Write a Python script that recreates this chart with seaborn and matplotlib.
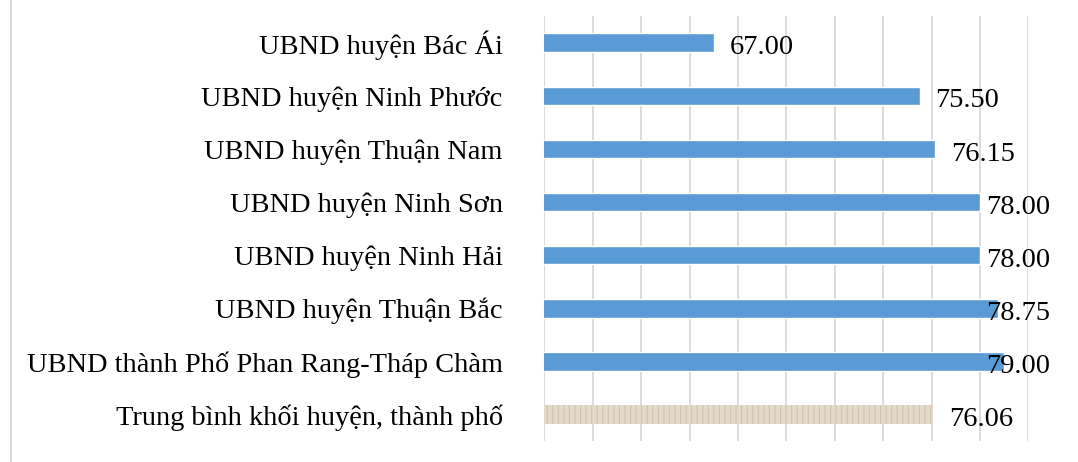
import pandas as pd
import matplotlib.pyplot as plt
import seaborn as sns
from matplotlib.lines import Line2D

sns.set_theme(style="white")
plt.rcParams['font.family'] = ['Liberation Serif', 'DejaVu Serif']
plt.rcParams['hatch.linewidth'] = 0.8

# data
units = [
    "UBND huyện Bác Ái",
    "UBND huyện Ninh Phước",
    "UBND huyện Thuận Nam",
    "UBND huyện Ninh Sơn",
    "UBND huyện Ninh Hải",
    "UBND huyện Thuận Bắc",
    "UBND thành Phố Phan Rang-Tháp Chàm",
    "Trung bình khối huyện, thành phố",
]
scores = [67.00, 75.50, 76.15, 78.00, 78.00, 78.75, 79.00, 76.06]

df = pd.DataFrame({"unit": units, "score": scores})

fig = plt.figure(figsize=(10.78, 4.62), dpi=100)
ax = fig.add_axes([0.505, 0.0455, 0.449, 0.9195])

sns.barplot(data=df, x="score", y="unit", orient="h", color="#5B9BD5",
            width=0.35, saturation=1, ax=ax)

# average bar gets a beige textured look
avg = ax.patches[-1]
avg.set_facecolor("#E3DACA")
avg.set_hatch("|||")
avg.set_edgecolor("#CFC4AE")
avg.set_linewidth(0)

ax.set_xlim(60, 80)
ax.set_ylim(7.5, -0.5)
ax.set_xticks(range(60, 81, 2))
ax.set_xticklabels([])
ax.tick_params(axis="x", length=0)
ax.tick_params(axis="y", length=0, pad=30, labelsize=20.4, labelcolor="black")
ax.grid(axis="x", color="#D9D9D9", linewidth=1.3)
ax.set_axisbelow(True)
for s in ax.spines.values():
    s.set_visible(False)
ax.set_xlabel("")
ax.set_ylabel("")

for i, v in enumerate(scores):
    ax.text(min(v + 0.65, 78.25), i + 0.04, f"{v:.2f}", va="center_baseline",
            ha="left", fontsize=20.4, color="black")

fig.add_artist(Line2D([0.0105, 0.0105], [0, 1], transform=fig.transFigure,
                      color="#D9D9D9", linewidth=1.5))

fig.savefig("out.png", dpi=100, facecolor="white")
